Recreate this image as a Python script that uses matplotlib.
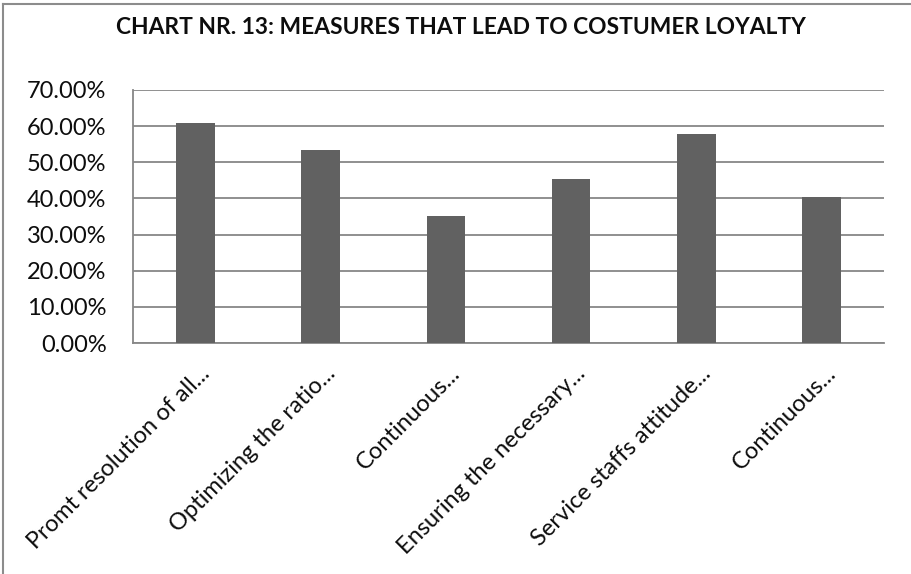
import matplotlib
matplotlib.use("Agg")
import matplotlib.pyplot as plt
from matplotlib.lines import Line2D
from matplotlib.transforms import ScaledTranslation
from matplotlib.ticker import FuncFormatter, MultipleLocator

categories = [
    "Promt resolution of all...",
    "Optimizing the ratio...",
    "Continuous...",
    "Ensuring the necessary...",
    "Service staffs attitude...",
    "Continuous...",
]
values = [0.608, 0.533, 0.352, 0.454, 0.579, 0.405]
title = "CHART NR. 13: MEASURES THAT LEAD TO COSTUMER LOYALTY"

FONT = ["Lato", "DejaVu Sans"]
plt.rcParams["font.family"] = FONT

W, H, DPI = 912, 574, 100
fig = plt.figure(figsize=(W / DPI, H / DPI), dpi=DPI)
fig.patch.set_facecolor("white")

# plot area in pixel coordinates
left, right, top, bottom = 133, 884, 90, 343
ax = fig.add_axes([left / W, 1 - bottom / H, (right - left) / W, (bottom - top) / H])

grid_c = "#878787"
x = list(range(len(categories)))
ax.bar(x, values, width=0.31, color="#616161", zorder=3)

ax.set_xlim(-0.5, len(categories) - 0.5)
ax.set_ylim(0, 0.70)
ax.yaxis.set_major_locator(MultipleLocator(0.10))
ax.yaxis.set_major_formatter(FuncFormatter(lambda v, p: f"{v * 100:.2f}%"))
ax.grid(axis="y", color=grid_c, linewidth=1.3, zorder=0)
ax.set_axisbelow(True)

for s in ["top", "right"]:
    ax.spines[s].set_visible(False)
for s in ["left", "bottom"]:
    ax.spines[s].set_color(grid_c)
    ax.spines[s].set_linewidth(1.3)

ax.tick_params(axis="y", length=0, pad=19, labelsize=17, labelcolor="#0d0d0d")
ax.tick_params(axis="x", length=0, pad=0, labelsize=17, labelcolor="#0d0d0d")

ax.set_xticks(x)
ax.set_xticklabels(categories, rotation=45, ha="right", va="center",
                   rotation_mode="anchor")
offset = ScaledTranslation(0.11, -0.27, fig.dpi_scale_trans)
for lab in ax.get_xticklabels():
    lab.set_transform(lab.get_transform() + offset)

fig.text(461 / W, 1 - 28 / H, title, ha="center", va="center",
         fontsize=16.4, fontweight="bold", color="#0d0d0d")

# outer chart frame (left and top edges)
frame_c = "#8c8c8c"
fig.add_artist(Line2D([3.5 / W, 3.5 / W], [0, 1 - 3.5 / H], transform=fig.transFigure,
                      color=frame_c, linewidth=1.5))
fig.add_artist(Line2D([3.5 / W, 1], [1 - 3.5 / H, 1 - 3.5 / H], transform=fig.transFigure,
                      color=frame_c, linewidth=1.5))

fig.savefig("out.png", dpi=DPI, facecolor="white")
